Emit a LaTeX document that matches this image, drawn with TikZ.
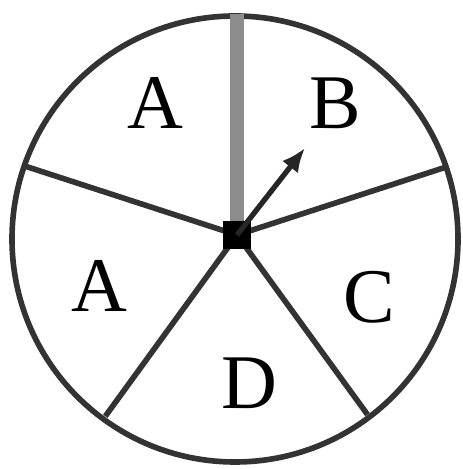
\documentclass[tikz,border=0pt]{standalone}
\usepackage{fontspec}
\setmainfont{Liberation Serif}
\usetikzlibrary{arrows.meta}

\begin{document}
\begin{tikzpicture}[
    every node/.style={font=\fontsize{22}{22}\selectfont},
    rim/.style={line width=1.6pt, black!80},
    spoke/.style={line width=1.6pt, black!80},
    pointer/.style={line width=3.8pt, black!45},
    hub/.style={rectangle, fill=black, inner sep=0pt, minimum size=0.28cm},
    arrow/.style={-{Latex[length=2.4mm, width=2mm]}, line width=1.5pt, black!85}
]
\useasboundingbox (-2.37,-2.34) rectangle (2.25,2.35);

\draw[rim] (-0.02,-0.04) circle (2.23);

% rim points of the five spokes
\coordinate (top) at (90:2.21);
\coordinate (right) at (18:2.2);
\coordinate (lowright) at (-54:2.22);
\coordinate (lowleft) at (234:2.24);
\coordinate (left) at (162:2.22);
\coordinate (tip) at (0.68,0.87);

\node[hub] (O) at (0,0) {};

\draw[pointer] (O.center) -- (top);
\draw[spoke] (O.center) -- (right);
\draw[spoke] (O.center) -- (lowright);
\draw[spoke] (O.center) -- (lowleft);
\draw[spoke] (O.center) -- (left);
\node[hub] at (O) {};

\draw[arrow] (O.center) -- (tip);

\node (A1) at (-0.82,1.32) {A};
\node (B) at (0.98,1.32) {B};
\node (A2) at (-1.38,-0.51) {A};
\node (C) at (1.32,-0.62) {C};
\node (D) at (0.12,-1.48) {D};
\end{tikzpicture}
\end{document}
